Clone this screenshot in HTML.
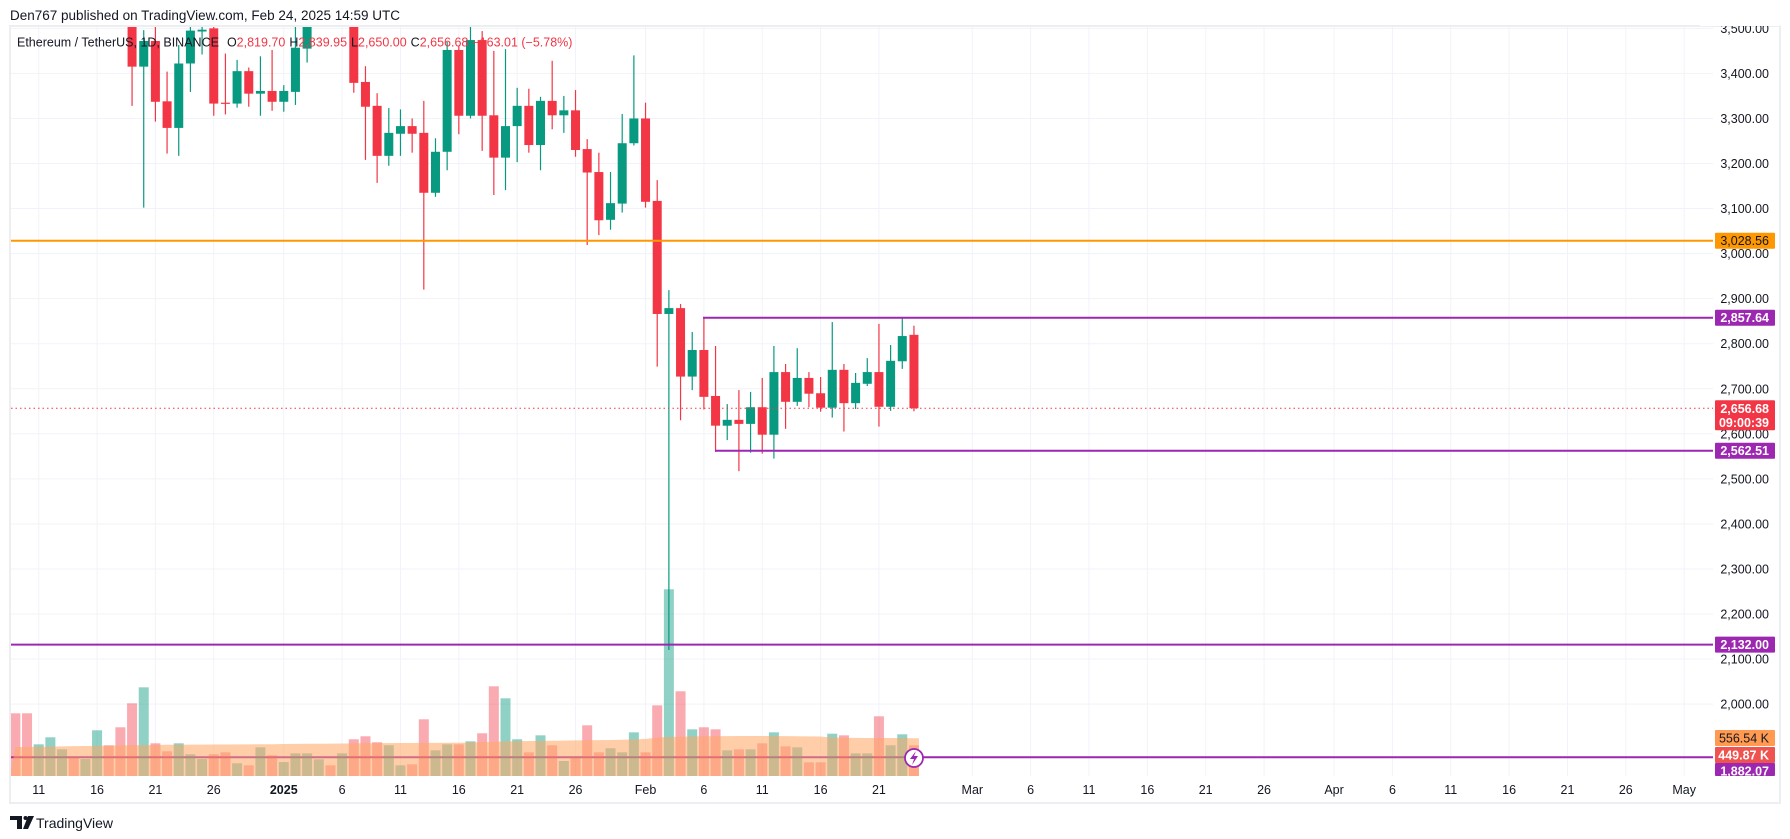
<!DOCTYPE html>
<html><head><meta charset="utf-8">
<style>
html,body{margin:0;padding:0;background:#fff;width:1790px;height:839px;overflow:hidden}
svg{display:block;font-family:"Liberation Sans","DejaVu Sans",sans-serif}
</style></head>
<body>
<svg id="chart" width="1790" height="839" viewBox="0 0 1790 839">
<defs>
<clipPath id="pane"><rect x="11" y="27" width="1702" height="749"/></clipPath>
</defs>
<text x="10" y="20" font-size="13.5" fill="#131722">Den767 published on TradingView.com, Feb 24, 2025 14:59 UTC</text>
<rect x="10" y="26" width="1770" height="777" fill="none" stroke="#eceef2" stroke-width="2"/>
<g id="grid"></g>
<g id="hlines-back" clip-path="url(#pane)"></g>
<g id="volume" clip-path="url(#pane)"></g>
<g id="candles" clip-path="url(#pane)"></g>
<g id="hlines" clip-path="url(#pane)"></g>
<g id="yaxis"></g>
<g id="xaxis"></g>
<g id="tags"></g>
<text x="17" y="46.5" font-size="12.5" fill="#131722">Ethereum / TetherUS, 1D, BINANCE<tspan dx="8">O</tspan><tspan fill="#f23645">2,819.70</tspan><tspan dx="4">H</tspan><tspan fill="#f23645">2,839.95</tspan><tspan dx="4">L</tspan><tspan fill="#f23645">2,650.00</tspan><tspan dx="4">C</tspan><tspan fill="#f23645">2,656.68</tspan><tspan dx="4" fill="#f23645">−163.01 (−5.78%)</tspan></text>
<g>
<circle cx="914" cy="758" r="9" fill="#fff" stroke="#9c27b0" stroke-width="1.8"/>
<path d="M916 751 L910 759 L914 759 L912 765 L918 756 L914 756 Z" fill="#9c27b0"/>
</g>
<g>
<path d="M10 816 H22 V829 H17 V820 H10 Z" fill="#131722"/>
<circle cx="25.5" cy="818" r="2" fill="#131722"/>
<path d="M28 816 H34 L28 829 H23 Z" fill="#131722"/>
<text x="36" y="828" font-size="14" fill="#131722">TradingView</text>
</g>
</svg>
<script>
// ---- data ----
const opens  = [3900,3700,3630,3830,3880,3910,3875,3960,3985,3890, 3620,3415,3472,3338,3279,3422,3493,3500,3335,3333,3405,3355,3361, 3337,3359,3455,3610,3660,3640, 3690,3381,3328,3217,3266,3283,3268,3135,3226,3452,3306,3474,3307,3213,3283,3328,3241,3339,3307,3318,3232,3181,3075,3111,3245, 3300,3117,2866,2879,2727,2786,2684,2618,2631,2622,2659,2598,2737,2671,2724,2690,2658,2742,2668,2711,2737,2660,2761,2819.7];
const highs  = [3950,3760,3850,3900,3930,3940,3980,4010,4020,3920, 3640,3496,3550,3404,3463,3520,3530,3540,3444,3430,3413,3438,3452, 3374,3550,3650,3700,3700,3720, 3740,3416,3356,3323,3320,3300,3339,3256,3470,3461,3525,3494,3450,3454,3368,3366,3348,3428,3350,3363,3254,3224,3181,3310,3440, 3335,3163,2919,2888,2826,2856,2795,2666,2697,2693,2724,2795,2755,2790,2737,2726,2848,2755,2735,2768,2844,2797,2857,2839.95];
const lows   = [3680,3600,3610,3800,3850,3850,3860,3930,3880,3600, 3328,3102,3293,3222,3217,3359,3442,3306,3309,3324,3326,3306,3317, 3315,3330,3424,3590,3620,3620, 3357,3208,3157,3195,3217,3224,2920,3126,3185,3265,3300,3228,3130,3141,3203,3224,3185,3276,3268,3215,3019,3041,3053,3091,3240, 3102,2749,2120,2630,2697,2654,2560,2586,2517,2558,2556,2545,2611,2662,2659,2649,2636,2605,2655,2706,2616,2651,2744,2650];
const closes = [3700,3630,3830,3880,3910,3875,3960,3985,3890,3620, 3415,3472,3337,3279,3422,3495,3497,3333,3333,3405,3355,3361,3337, 3361,3457,3610,3660,3640,3690, 3379,3326,3217,3268,3283,3266,3135,3226,3452,3306,3474,3306,3213,3283,3328,3241,3339,3307,3318,3230,3180,3074,3112,3245,3300, 3115,2866,2879,2727,2786,2682,2618,2631,2622,2659,2598,2737,2671,2724,2689,2658,2742,2668,2713,2737,2660,2762,2817,2656.68];
const volumes = [1045,1045,528,645,445,312,283,762,512,812, 1212,1478,545,412,545,362,283,362,395,212,178,478,345, 233,378,378,278,178,378, 612,662,562,512,178,195,945,428,528,528,578,712,1495,1295,612,395,678,512,250,312,845,395,462,395,728, 395,1178,3112,1412,778,812,778,428,445,445,545,728,495,478,228,228,705,678,378,378,995,512,695,512];
const volMA = [483,483,487,490,493,497,500,503,507,510, 513,515,517,520,520,522,523,525,525,527,527,530,530, 533,535,537,538,540,542, 543,545,547,548,550,551,553,553,555,555,560,565,570,575,580,583,585,588,590,593,595,598,600,605,610, 618,640,650,655,660,663,665,665,667,667,667,667,665,663,660,658,640,637,635,633,633,633,633,630];
const priceTicks = [2000,2100,2200,2300,2400,2500,2600,2700,2800,2900,3000,3100,3200,3300,3400,3500];
const dateLabels = ['11','16','21','26','2025','6','11','16','21','26','Feb','6','11','16','21','Mar','6','11','16','21','26','Apr','6','11','16','21','26','May'];
const dateIdx    = [2,7,12,17,23,28,33,38,43,48,54,59,64,69,74,82,87,92,97,102,107,113,118,123,128,133,138,143];
const levels = [3028.56, 2857.64, 2562.51, 2132.00, 1882.07];
const lastPrice = 2656.68;

// ---- scales ----
const NS='http://www.w3.org/2000/svg';
function x(i){return 15.36 + i*11.67;}
function y(p){return 253.6 - (p-3000)*0.4505;}
function vy(v){return 776 - v*0.06;}
function mk(tag,attrs,parent){const e=document.createElementNS(NS,tag);for(const k in attrs)e.setAttribute(k,attrs[k]);parent.appendChild(e);return e;}
const UP='#089981', DN='#f23645';
function fmt(p){return p.toLocaleString('en-US',{minimumFractionDigits:2,maximumFractionDigits:2});}

// grid
const grid=document.getElementById('grid');
priceTicks.forEach(p=>{const l=mk('line',{x1:11,x2:1713,y1:y(p),y2:y(p),stroke:'#f0f3fa','stroke-width':1},grid);

});
dateIdx.forEach(i=>{const l=mk('line',{x1:x(i),x2:x(i),y1:27,y2:776,stroke:'#f0f3fa','stroke-width':1},grid);

});

// levels under volume (1882.07 line)
const hb=document.getElementById('hlines-back');
const l5=mk('line',{x1:11,x2:1713,y1:y(levels[4]),y2:y(levels[4]),stroke:'#9c27b0','stroke-width':2},hb);



// volume
const vg=document.getElementById('volume');
volumes.forEach((v,i)=>{const up=closes[i]>=opens[i];
const r=mk('rect',{x:x(i)-5,y:vy(v),width:10,height:776-vy(v),fill:up?'rgba(8,153,129,0.45)':'rgba(242,54,69,0.42)'},vg);

});
let d='M'+(x(0)-5)+' 776';
volMA.forEach((v,i)=>{d+=' L'+x(i)+' '+vy(v);});
d+=' L'+(x(volMA.length-1)+5)+' '+vy(volMA[volMA.length-1])+' L'+(x(volMA.length-1)+5)+' 776 Z';
const area=mk('path',{d:d,fill:'rgba(255,165,99,0.55)'},vg);



// candles
const cg=document.getElementById('candles');
opens.forEach((o,i)=>{const c=closes[i],up=c>=o,col=up?UP:DN;
const g=mk('g',{},cg);


mk('line',{x1:x(i),x2:x(i),y1:y(highs[i]),y2:y(lows[i]),stroke:col,'stroke-width':1.2},g);
const top=y(Math.max(o,c)),bot=y(Math.min(o,c));
mk('rect',{x:x(i)-4.5,y:top,width:9,height:Math.max(1.2,bot-top),fill:col},g);});

// level lines
const hg=document.getElementById('hlines');
const lvStyle=[{c:'#ff9800',x1:11,n:'level-line-3028'},{c:'#9c27b0',x1:703,n:'level-line-2857'},{c:'#9c27b0',x1:715,n:'level-line-2562'},{c:'#9c27b0',x1:11,n:'level-line-2132'}];
lvStyle.forEach((s,k)=>{const l=mk('line',{x1:s.x1,x2:1713,y1:y(levels[k]),y2:y(levels[k]),stroke:s.c,'stroke-width':2},hg);

});
const lp=mk('line',{x1:11,x2:1713,y1:y(lastPrice),y2:y(lastPrice),stroke:'#f23645','stroke-width':1,'stroke-dasharray':'1.5 3'},hg);



// y axis
const ya=document.getElementById('yaxis');
priceTicks.forEach(p=>{if(y(p)<30)return;const t=mk('text',{x:1769,y:y(p)+4.5,'font-size':12.5,'text-anchor':'end',fill:'#131722'},ya);t.textContent=fmt(p);

});
{const t=mk('text',{x:1769,y:33,'font-size':12.5,'text-anchor':'end',fill:'#131722'},ya);t.textContent='3,500.00';

}
mk('rect',{x:1700,y:18,width:80,height:8,fill:'#fff'},ya);

// x axis
const xa=document.getElementById('xaxis');
dateLabels.forEach((s,k)=>{
const t=mk('text',{x:x(dateIdx[k]),y:794,'font-size':12.5,'text-anchor':'middle',fill:'#131722','font-weight':s==='2025'?'bold':'normal'},xa);t.textContent=s;

});

// tags
const tg=document.getElementById('tags');
function tag(cy,h,bg,fg,lines,name){const g=mk('g',{},tg);


mk('rect',{x:1715,y:cy-8,width:60,height:h,fill:bg,rx:1},g);
lines.forEach((s,j)=>{const t=mk('text',{x:1769,y:cy+4.5+j*14,'font-size':12.5,'text-anchor':'end',fill:fg,'font-weight':fg==='#fff'?'bold':'normal'},g);t.textContent=s;});}
tag(y(levels[0]),16,'#ff9800','#131722',[fmt(levels[0])],'tag-3028');
tag(y(levels[1]),16,'#9c27b0','#fff',[fmt(levels[1])],'tag-2857');
tag(y(lastPrice),30,'#f23645','#fff',[fmt(lastPrice),'09:00:39'],'tag-last-price');
tag(y(levels[2]),16,'#9c27b0','#fff',[fmt(levels[2])],'tag-2562');
tag(y(levels[3]),16,'#9c27b0','#fff',[fmt(levels[3])],'tag-2132');
tag(738,16,'#ff9a50','#131722',['556.54 K'],'tag-volume');
tag(755,16,'#ef5350','#fff',['449.87 K'],'tag-volume-ma');
tag(771,13,'#9c27b0','#fff',[fmt(levels[4])],'tag-1882');
mk('rect',{x:1714,y:776,width:64,height:26,fill:'#fff'},tg);
</script>
</body></html>
